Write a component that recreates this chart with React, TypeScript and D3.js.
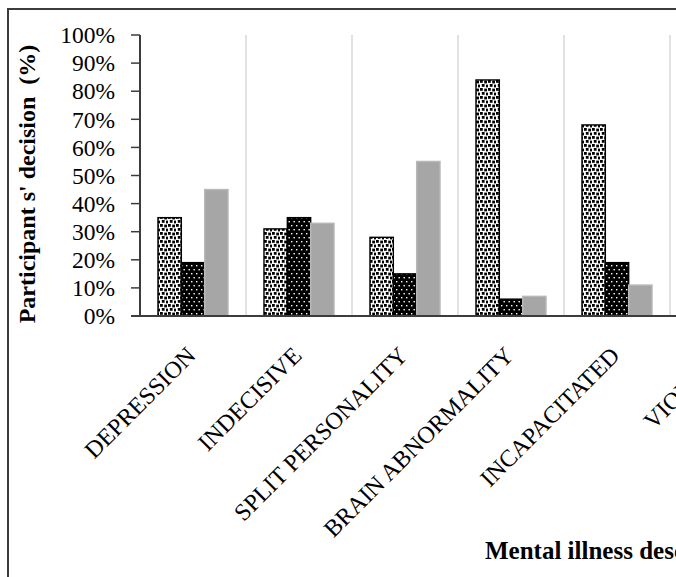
import React from "react";
import * as d3 from "d3";

// Categories along the x axis (the last one runs off the right edge)
const categories = [
  "DEPRESSION",
  "INDECISIVE",
  "SPLIT PERSONALITY",
  "BRAIN ABNORMALITY",
  "INCAPACITATED",
  "VIOLENT",
];

// Percentages per decision series, one value per category
const dottedValues = [35, 31, 28, 84, 68];
const blackValues = [19, 35, 15, 6, 19];
const grayValues = [45, 33, 55, 7, 11];

const seriesKeys = ["dotted", "black", "gray"];
const seriesValues: Record<string, number[]> = {
  dotted: dottedValues,
  black: blackValues,
  gray: grayValues,
};

const yTicks = [0, 10, 20, 30, 40, 50, 60, 70, 80, 90, 100];

const W = 676;
const H = 577;
const SERIF = "'Liberation Serif', 'Times New Roman', Times, serif";

export default function App() {
  const plotLeft = 140;
  const plotTop = 35;
  const plotBottom = 316;
  const step = 106;

  const x = d3
    .scaleBand<string>()
    .domain(categories)
    .range([plotLeft, plotLeft + step * categories.length])
    .paddingInner(0)
    .paddingOuter(0);

  const xs = d3
    .scaleBand<string>()
    .domain(seriesKeys)
    .range([0, x.bandwidth()])
    .paddingInner(0)
    .paddingOuter(0.77);

  const y = d3.scaleLinear().domain([0, 100]).range([plotBottom, plotTop]);

  const fills: Record<string, string> = {
    dotted: "url(#confetti)",
    black: "url(#darkDots)",
    gray: "#a6a6a6",
  };
  const strokes: Record<string, string> = {
    dotted: "#000",
    black: "#000",
    gray: "#b8b8b8",
  };

  return (
    <svg
      width={W}
      height={H}
      style={{ position: "absolute", left: 0, top: 0, overflow: "hidden", background: "#fff" }}
    >
      <defs>
        <pattern id="confetti" width={8} height={8} patternUnits="userSpaceOnUse">
          <rect width={8} height={8} fill="#fff" />
          <rect x={0} y={0} width={2.8} height={2.8} fill="#000" />
          <rect x={4.2} y={0.6} width={2.8} height={2.8} fill="#000" />
          <rect x={1.8} y={4} width={2.8} height={2.8} fill="#000" />
          <rect x={6} y={4.6} width={2.8} height={2.8} fill="#000" />
        </pattern>
        <pattern id="darkDots" width={5} height={8} patternUnits="userSpaceOnUse">
          <rect width={5} height={8} fill="#000" />
          <rect x={1} y={1} width={1.4} height={1.4} fill="#fff" />
          <rect x={3.5} y={5} width={1.4} height={1.4} fill="#fff" />
        </pattern>
      </defs>

      {/* outer chart frame */}
      <rect x={8} y={9} width={900} height={800} fill="none" stroke="#3c3c3c" strokeWidth={2} />

      {/* vertical category gridlines */}
      {categories.map((c, i) =>
        i === 0 ? null : (
          <line
            key={"g" + c}
            x1={x(c)!}
            x2={x(c)!}
            y1={plotTop}
            y2={plotBottom}
            stroke="#d9d9d9"
            strokeWidth={1.5}
          />
        )
      )}

      {/* bars */}
      {seriesKeys.map((k) =>
        seriesValues[k].map((v, i) => {
          const c = categories[i];
          const bx = x(c)! + xs(k)!;
          return (
            <rect
              key={k + c}
              x={bx}
              y={y(v)}
              width={xs.bandwidth()}
              height={plotBottom - y(v)}
              fill={fills[k]}
              stroke={strokes[k]}
              strokeWidth={1.4}
            />
          );
        })
      )}

      {/* y axis */}
      <line x1={plotLeft} x2={plotLeft} y1={plotTop} y2={plotBottom} stroke="#3c3c3c" strokeWidth={2} />
      {yTicks.map((t) => (
        <g key={"t" + t}>
          <line x1={plotLeft - 9} x2={plotLeft} y1={y(t)} y2={y(t)} stroke="#3c3c3c" strokeWidth={1.5} />
          <text
            x={115}
            y={y(t)}
            dy="0.35em"
            textAnchor="end"
            fontFamily={SERIF}
            fontSize={23.5}
            fill="#000"
          >
            {t + "%"}
          </text>
        </g>
      ))}

      {/* x axis */}
      <line x1={plotLeft - 9} x2={W + 10} y1={plotBottom} y2={plotBottom} stroke="#3c3c3c" strokeWidth={2} />

      {/* category labels */}
      {categories.map((c) => {
        const cx = x(c)! + x.bandwidth() / 2;
        return (
          <text
            key={"l" + c}
            transform={`translate(${cx + 4},357) rotate(-45)`}
            textAnchor="end"
            fontFamily={SERIF}
            fontSize={24}
            fill="#000"
          >
            {c}
          </text>
        );
      })}

      {/* axis titles */}
      <text
        transform="translate(35,184) rotate(-90)"
        textAnchor="middle"
        fontFamily={SERIF}
        fontWeight="bold"
        fontSize={24}
        fill="#000"
        style={{ whiteSpace: "pre" }}
      >
        {"Participant s' decision  (%)"}
      </text>
      <text x={485} y={559} fontFamily={SERIF} fontWeight="bold" fontSize={25} fill="#000">
        Mental illness description
      </text>
    </svg>
  );
}
